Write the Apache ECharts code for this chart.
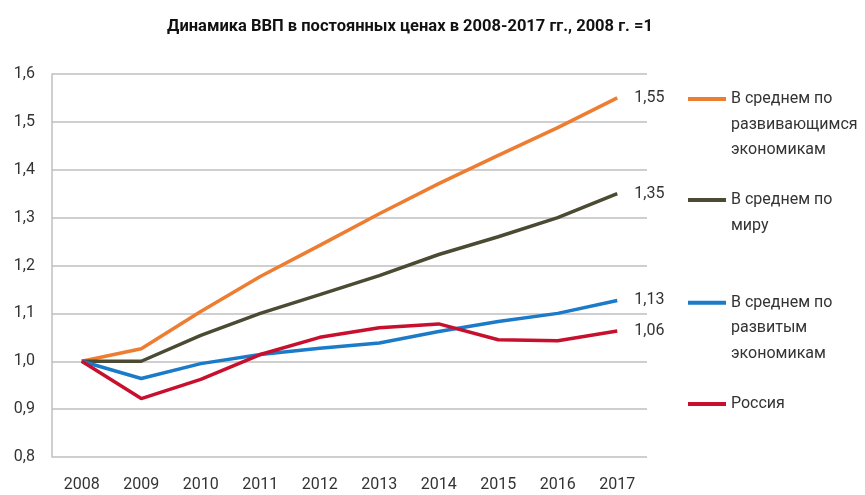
<!DOCTYPE html>
<html>
<head>
<meta charset="utf-8">
<script src="https://cdn.jsdelivr.net/npm/echarts@6/dist/echarts.min.js"></script>
<style>
  html, body { margin: 0; padding: 0; background: #fff; }
  #chart { width: 865px; height: 495px; }
</style>
</head>
<body>
<div id="chart"></div>
<script>
// годы и значения (2008 = 1)
const years = ['2008', '2009', '2010', '2011', '2012', '2013', '2014', '2015', '2016', '2017']
const developing = [1.0, 1.026, 1.104, 1.177, 1.242, 1.308, 1.371, 1.43, 1.488, 1.55]
const world = [1.0, 1.0, 1.054, 1.1, 1.139, 1.179, 1.223, 1.26, 1.3, 1.35]
const developed = [1.0, 0.964, 0.995, 1.014, 1.027, 1.038, 1.062, 1.083, 1.1, 1.127]
const russia = [1.0, 0.922, 0.962, 1.014, 1.05, 1.07, 1.078, 1.045, 1.043, 1.063]
const yTicks = [0.8, 0.9, 1.0, 1.1, 1.2, 1.3, 1.4, 1.5, 1.6]

const names = [
  'В среднем по\nразвивающимся\nэкономикам',
  'В среднем по\nмиру',
  'В среднем по\nразвитым\nэкономикам',
  'Россия',
]
const colors = ['#ED7D31', '#4B4A33', '#1B7BC9', '#C8102E']
const seriesData = [developing, world, developed, russia]

const font = 'Roboto, "Liberation Sans", sans-serif'
const lh = 25.5
const fmt = (v) => v.toFixed(2).replace('.', ',')

const chart = echarts.init(document.getElementById('chart'))

// отдельная легенда на каждую линию; значок высотой во весь текст,
// а сама линия нарисована напротив первой строки
const legendTops = [99, 200, 302.7, 404]
const legends = names.map((name, i) => {
  const h = name.split('\n').length * lh
  const y1 = lh / 2 - 2
  const y2 = lh / 2 + 2
  return {
    data: [name],
    left: 688,
    top: legendTops[i] - lh / 2,
    padding: 0,
    icon: `path://M0,${y1}H38V${y2}H0ZM0,0M38,${h}`,
    itemWidth: 38,
    itemHeight: h,
    selectedMode: false,
    textStyle: {
      fontFamily: font,
      fontSize: 16,
      color: '#333',
      lineHeight: lh,
    },
  }
})

chart.setOption({
  animation: false,
  title: {
    text: 'Динамика ВВП в постоянных ценах в 2008-2017 гг., 2008 г. =1',
    left: 405,
    textAlign: 'center',
    top: 13,
    textStyle: { fontFamily: font, fontSize: 16.5, fontWeight: 'bold', color: '#111' },
  },
  legend: legends,
  grid: { left: 52, right: 218, top: 74, bottom: 38 },
  xAxis: {
    type: 'category',
    data: years,
    axisLine: { show: false },
    axisTick: { show: false },
    axisLabel: { fontFamily: font, fontSize: 16, color: '#333', margin: 20 },
  },
  yAxis: {
    type: 'value',
    min: yTicks[0],
    max: yTicks[yTicks.length - 1],
    interval: 0.1,
    axisLine: { show: true, lineStyle: { color: '#BFBFBF', width: 1.5 } },
    axisTick: { show: false },
    splitLine: { lineStyle: { color: '#BFBFBF', width: 1.5 } },
    axisLabel: {
      fontFamily: font,
      fontSize: 16,
      color: '#333',
      margin: 17,
      formatter: (v) => v.toFixed(1).replace('.', ','),
    },
  },
  series: seriesData.map((d, i) => ({
    name: names[i],
    type: 'line',
    data: d,
    symbol: 'none',
    color: colors[i],
    lineStyle: { width: 3.5, color: colors[i] },
    endLabel: {
      show: true,
      distance: 17,
      fontFamily: font,
      fontSize: 16,
      color: '#333',
      formatter: (p) => fmt(p.value),
    },
  })),
})
</script>
</body>
</html>
